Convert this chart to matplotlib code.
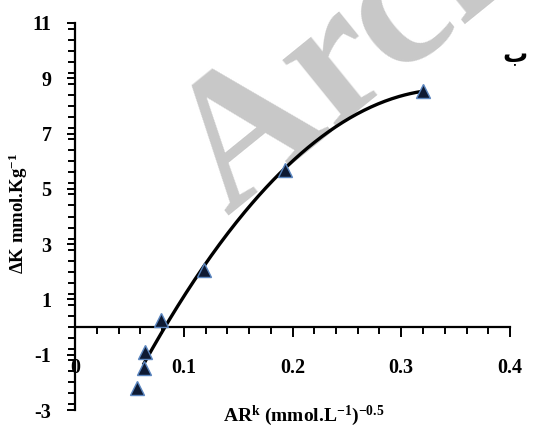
import numpy as np
import matplotlib
matplotlib.use("Agg")
import matplotlib.pyplot as plt
from matplotlib.ticker import MultipleLocator

plt.rcParams["font.family"] = ["Liberation Serif", "DejaVu Serif"]
plt.rcParams["font.weight"] = "bold"
plt.rcParams["axes.unicode_minus"] = False
plt.rcParams["mathtext.fontset"] = "custom"
plt.rcParams["mathtext.rm"] = "Liberation Serif:bold"
plt.rcParams["mathtext.it"] = "Liberation Serif:bold"
plt.rcParams["mathtext.bf"] = "Liberation Serif:bold"

# values
ar_k = [0.0574, 0.0635, 0.0647, 0.0788, 0.119, 0.1927, 0.3198]
delta_k = [-2.22, -1.49, -0.89, 0.25, 2.06, 5.68, 8.55]

x_ticks = [0, 0.1, 0.2, 0.3, 0.4]
x_tick_labels = ["0", "0.1", "0.2", "0.3", "0.4"]
y_ticks = [-3, -1, 1, 3, 5, 7, 9, 11]

fig = plt.figure(figsize=(5.42, 4.38), dpi=100)
ax = fig.add_axes([75 / 542, 1 - 410 / 438, 435 / 542, 387 / 438])
ax.patch.set_alpha(0)

# polynomial trendline (order 2), like the spreadsheet one
coef = np.polyfit(ar_k, delta_k, 2)
xs = np.linspace(ar_k[1], ar_k[-1], 200)
ax.plot(xs, np.polyval(coef, xs), color="black", lw=2.4, zorder=3)

ax.plot(ar_k, delta_k, linestyle="none", marker="^", markersize=10,
        markerfacecolor="#0e1a33", markeredgecolor="#5b86c0",
        markeredgewidth=1.0, zorder=4)

ax.set_xlim(0, 0.4)
ax.set_ylim(-3, 11)
ax.spines["top"].set_visible(False)
ax.spines["right"].set_visible(False)
ax.spines["bottom"].set_position(("data", 0))
for sp in ("left", "bottom"):
    ax.spines[sp].set_linewidth(1.6)

ax.set_xticks(x_ticks)
ax.set_xticklabels(x_tick_labels)
ax.set_yticks(y_ticks)
ax.xaxis.set_minor_locator(MultipleLocator(0.02))
ax.yaxis.set_minor_locator(MultipleLocator(0.4))
ax.tick_params(axis="both", which="both", direction="out", width=1.4,
               labelsize=14.5)
ax.tick_params(axis="x", which="major", length=7, pad=15)
ax.tick_params(axis="x", which="minor", length=5)
ax.tick_params(axis="y", which="major", length=6, pad=11)
ax.tick_params(axis="y", which="minor", length=5)

fig.text(18 / 542, 1 - 213 / 438, r"$\Delta$K mmol.Kg$^{-1}$", rotation=90,
         ha="center", va="center", fontsize=13.5)
fig.text(304 / 542, 1 - 416 / 438, r"AR$^{k}$ (mmol.L$^{-1}$)$^{-0.5}$",
         ha="center", va="center", fontsize=14)

fig.text(515 / 542, 1 - 55 / 438, "ب", family="DejaVu Sans", fontsize=18,
         ha="center", va="center")

# watermark
ax.text(228 / 542, 1 - 216 / 438, "Archive of SID", transform=fig.transFigure,
        rotation=39, rotation_mode="anchor", ha="left", va="baseline",
        fontsize=136, fontweight="bold", color="#c8c8c8", zorder=1,
        clip_on=False)

fig.savefig("out.png", dpi=100)
